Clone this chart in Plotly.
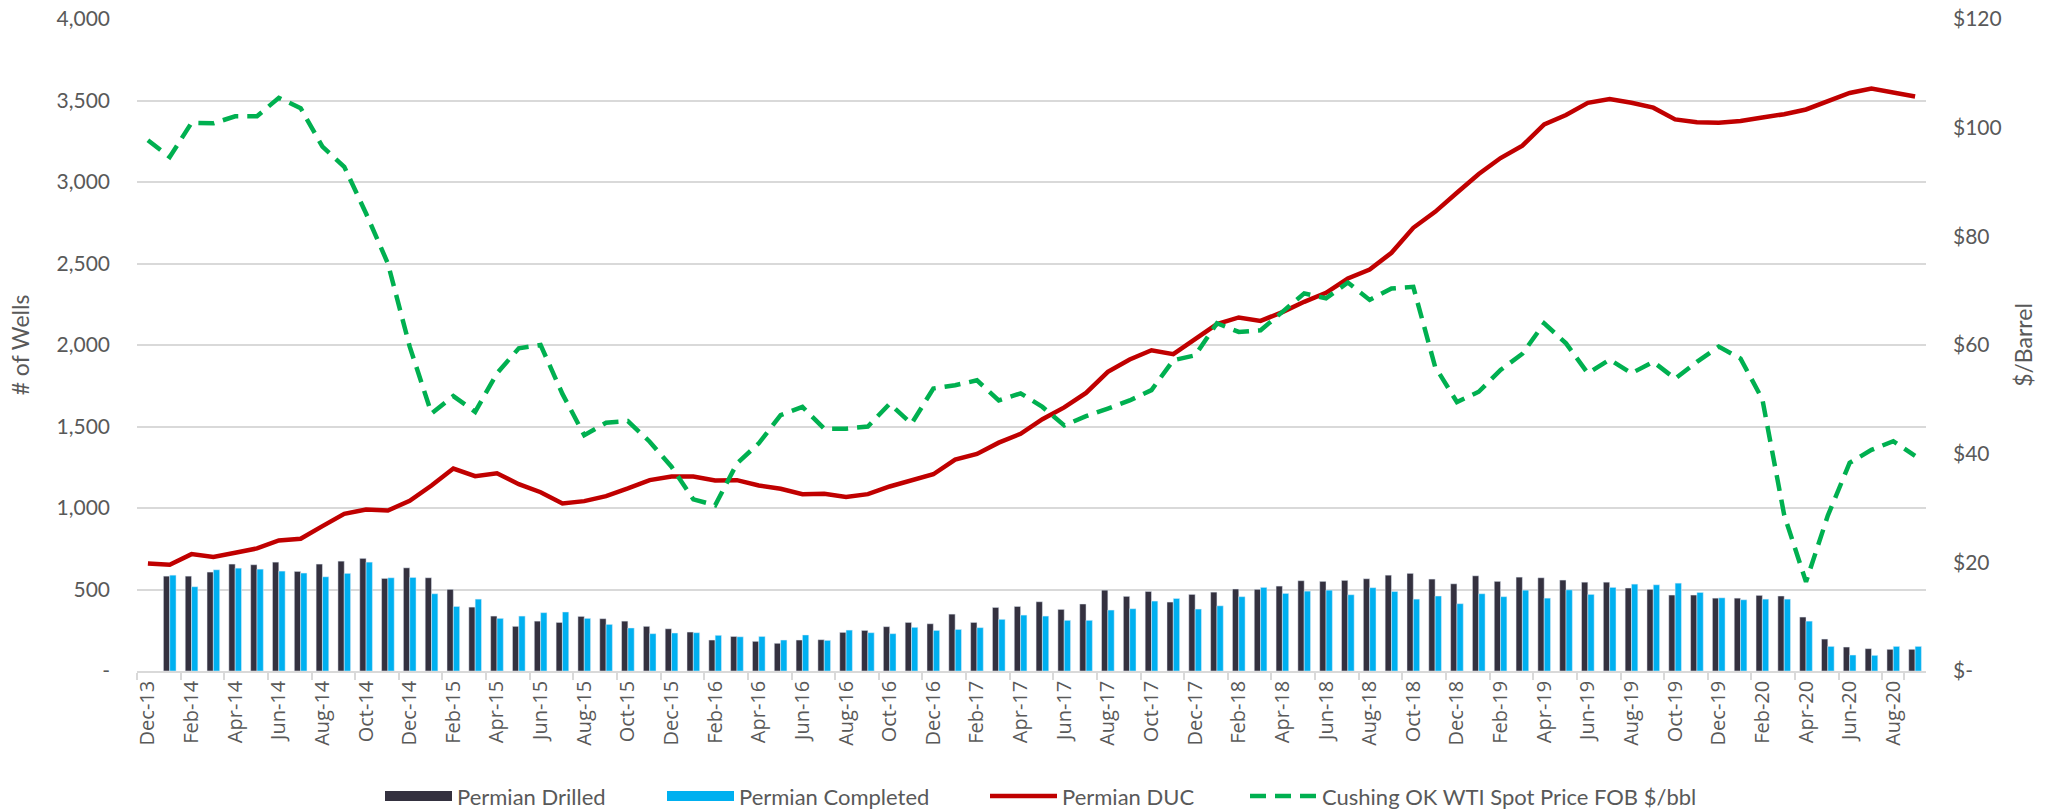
import pandas as pd
import plotly.graph_objects as go

months = list(pd.date_range("2013-12-01", "2020-09-01", freq="MS").strftime("%b-%y"))

drilled = [None,
           582, 582, 607, 656, 652, 668, 611, 656, 674, 691, 568, 633,
           572, 501, 392, 337, 274, 306, 298, 335, 321, 306, 274, 259,
           239, 190, 212, 182, 170, 190, 192, 237, 249, 272, 298, 290,
           349, 298, 390, 396, 425, 378, 411, 496, 458, 488, 423, 470,
           484, 503, 501, 521, 554, 550, 556, 566, 588, 599, 564, 535,
           584, 550, 576, 572, 558, 545, 545, 509, 501, 466, 466, 447,
           447, 464, 460, 331, 196, 147, 137, 133, 133]

completed = [None,
             588, 517, 621, 631, 625, 613, 601, 578, 599, 668, 572, 574,
             474, 396, 441, 323, 337, 358, 362, 323, 286, 264, 229, 233,
             235, 219, 210, 212, 190, 221, 188, 251, 235, 229, 268, 249,
             255, 266, 317, 343, 337, 311, 311, 374, 382, 429, 445, 380,
             400, 456, 513, 476, 490, 496, 468, 511, 488, 441, 460, 413,
             474, 456, 496, 447, 498, 470, 513, 533, 529, 539, 482, 449,
             437, 441, 441, 306, 151, 98, 96, 151, 151]

duc = [660,
       652, 717, 700, 725, 752, 801, 811, 889, 964, 991, 985, 1044,
       1138, 1242, 1195, 1213, 1146, 1097, 1028, 1042, 1073, 1120, 1171, 1193,
       1193, 1169, 1171, 1138, 1118, 1085, 1087, 1068, 1085, 1132, 1169, 1207,
       1297, 1332, 1401, 1455, 1545, 1617, 1706, 1835, 1911, 1968, 1944, 2038,
       2128, 2169, 2148, 2202, 2265, 2320, 2408, 2463, 2566, 2719, 2817, 2934,
       3049, 3147, 3223, 3353, 3411, 3486, 3509, 3486, 3456, 3384, 3366, 3364,
       3374, 3396, 3416, 3445, 3496, 3546, 3574, 3548, 3525]

wti = [97.7,
       94.6, 100.9, 100.8, 102.1, 102.1, 105.5, 103.6, 96.5, 92.8, 84.2, 75.0, 59.7,
       47.4, 50.6, 47.7, 54.8, 59.4, 60.0, 51.0, 43.4, 45.7, 46.0, 42.2, 37.6,
       31.6, 30.5, 38.2, 41.9, 47.1, 48.6, 44.6, 44.6, 45.0, 49.2, 45.5, 52.0,
       52.6, 53.5, 49.8, 51.1, 48.6, 45.2, 46.9, 48.3, 49.8, 51.7, 57.2, 58.1,
       64.0, 62.4, 62.7, 66.1, 69.5, 68.6, 71.5, 68.3, 70.4, 70.7, 56.0, 49.5,
       51.4, 55.4, 58.4, 64.0, 60.3, 54.8, 57.3, 54.8, 56.9, 53.8, 56.9, 59.7,
       57.5, 50.0, 28.7, 16.4, 28.6, 38.3, 40.7, 42.3, 39.6]

left_ticks = [0, 500, 1000, 1500, 2000, 2500, 3000, 3500, 4000]
left_labels = ["-", "500", "1,000", "1,500", "2,000", "2,500", "3,000", "3,500", "4,000"]
right_ticks = [0, 20, 40, 60, 80, 100, 120]
right_labels = ["$-", "$20", "$40", "$60", "$80", "$100", "$120"]

C_DRILL = "#34313f"
C_COMP = "#00b0f0"
C_DUC = "#c00000"
C_WTI = "#00b050"
TXT = "#595959"
FONT = "Lato"

W, H = 2067, 811
ML, MR, MT, MB = 137, 141, 19, 140
PW = W - ML - MR


def px_to_paper(px):
    return (px - 5 - ML) / PW


fig = go.Figure()
fig.add_trace(go.Bar(x=months, y=drilled, name="Permian Drilled", marker_color=C_DRILL,
                     showlegend=False, hoverinfo="skip"))
fig.add_trace(go.Bar(x=months, y=completed, name="Permian Completed", marker_color=C_COMP,
                     showlegend=False, hoverinfo="skip"))
# legend proxies with wide rectangular swatches
fig.add_trace(go.Scatter(x=[None], y=[None], mode="lines", name="Permian Drilled",
                         line=dict(color=C_DRILL, width=14), legend="legend"))
fig.add_trace(go.Scatter(x=[None], y=[None], mode="lines", name="Permian Completed",
                         line=dict(color=C_COMP, width=14), legend="legend2"))
fig.add_trace(go.Scatter(x=months, y=duc, mode="lines", name="Permian DUC",
                         line=dict(color=C_DUC, width=4.5), hoverinfo="skip", legend="legend3"))
fig.add_trace(go.Scatter(x=months, y=wti, mode="lines", name="Cushing OK WTI Spot Price FOB $/bbl",
                         line=dict(color=C_WTI, width=4.5, dash="16px,9px"), yaxis="y2",
                         hoverinfo="skip", legend="legend4"))

leg_common = dict(orientation="h", xanchor="left", y=-0.192, yanchor="middle",
                  itemwidth=67, font=dict(family=FONT, size=22, color=TXT),
                  bgcolor="rgba(0,0,0,0)", borderwidth=0)

fig.update_layout(
    width=W, height=H,
    margin=dict(l=ML, r=MR, t=MT, b=MB, autoexpand=False),
    paper_bgcolor="white", plot_bgcolor="white",
    barmode="group", bargap=0.42, bargroupgap=0,
    font=dict(family=FONT, size=21, color=TXT),
    xaxis=dict(
        type="category", categoryorder="array", categoryarray=months,
        tickmode="array", tickvals=months[::2], ticktext=months[::2],
        tickangle=-90, tickson="boundaries", ticks="outside", ticklen=7,
        tickcolor="#d9d9d9", tickwidth=1.5,
        showline=True, linecolor="#d9d9d9", linewidth=1.5,
        showgrid=False, tickfont=dict(family="Open Sans", size=20, color=TXT),
        range=[-0.5, len(months) - 0.5], automargin=False,
    ),
    yaxis=dict(
        range=[0, 4000], tickmode="array", tickvals=left_ticks, ticktext=left_labels,
        showgrid=True, gridcolor="#d9d9d9", gridwidth=1.5, zeroline=False,
        ticks="", ticklabelstandoff=26, automargin=False,
        title=dict(text="# of Wells", standoff=20, font=dict(size=23, color=TXT)),
        tickfont=dict(size=21, color=TXT),
    ),
    yaxis2=dict(
        range=[0, 120], overlaying="y", side="right",
        tickmode="array", tickvals=right_ticks, ticktext=right_labels,
        showgrid=False, zeroline=False, ticks="", ticklabelstandoff=26, automargin=False,
        title=dict(text="$/Barrel", standoff=15, font=dict(size=23, color=TXT)),
        tickfont=dict(size=21, color=TXT),
    ),
    legend=dict(x=px_to_paper(385), **leg_common),
    legend2=dict(x=px_to_paper(667), **leg_common),
    legend3=dict(x=px_to_paper(990), **leg_common),
    legend4=dict(x=px_to_paper(1250), **leg_common),
)

fig.write_html(
    "out.html",
    config={"displayModeBar": False},
    post_script="document.body.style.margin='0';document.body.style.overflow='hidden';",
)
